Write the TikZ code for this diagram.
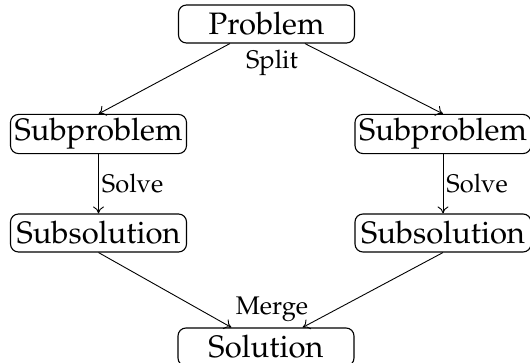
\documentclass[tikz,border=0pt]{standalone}
\usepackage[T1]{fontenc}
\usepackage{mathpazo}
\usetikzlibrary{arrows.meta}
\begin{document}
\begin{tikzpicture}[x=1pt,y=-1pt,
  box/.style={draw,rounded corners=8pt,line width=1.1pt,minimum width=176pt,minimum height=38pt,inner sep=4pt,font=\fontsize{31}{36}\selectfont},
  lbl/.style={font=\fontsize{25.5}{30}\selectfont,inner sep=3pt},
  arr/.style={line width=0.9pt,-{To[length=7pt,width=11pt]}}]
\useasboundingbox (0,0) rectangle (530,363);
\node[box] (p) at (266.5,24) {Problem};
\node[box] (sl) at (98.5,134) {Subproblem};
\node[box] (sr) at (443,134) {Subproblem};
\node[box] (tl) at (98.5,233) {Subsolution};
\node[box] (tr) at (443,233) {Subsolution};
\node[box] (s) at (266,347) {Solution};
\draw[arr] (p) -- (sl.north);
\draw[arr] (p) -- (sr.north);
\node[lbl,fill=white] (split) at (272,63) {Split};
\draw[arr] (sl) -- node[lbl,right] (solvel) {Solve} (tl);
\draw[arr] (sr) -- node[lbl,right] (solver) {Solve} (tr);
\draw[arr] (tl.south) -- (s);
\draw[arr] (tr.south) -- (s);
\node[lbl] (merge) at (272,309) {Merge};
\end{tikzpicture}
\end{document}
